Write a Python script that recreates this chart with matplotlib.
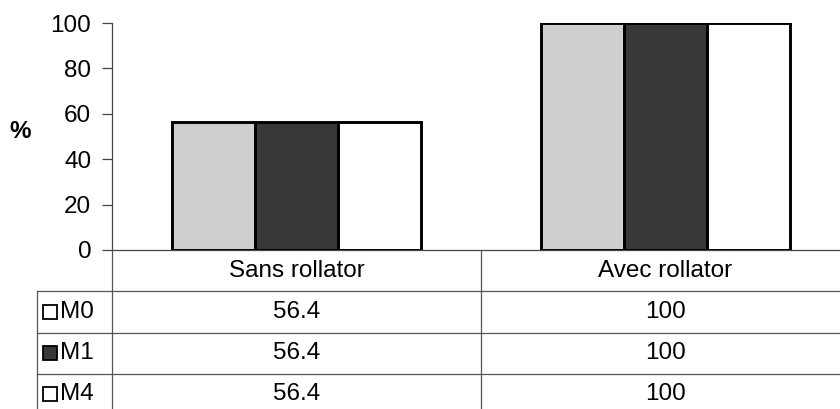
import matplotlib
matplotlib.use("Agg")
import matplotlib.pyplot as plt
import numpy as np
from matplotlib.patches import Rectangle

plt.rcParams['font.family'] = ['Liberation Sans', 'DejaVu Sans']

categories = ["Sans rollator", "Avec rollator"]
series_names = ["M0", "M1", "M4"]
m0 = [56.4, 100]
m1 = [56.4, 100]
m4 = [56.4, 100]
series_values = [m0, m1, m4]
yticks = [0, 20, 40, 60, 80, 100]

face_colors = ["#cfcfcf", "#383838", "#ffffff"]
legend_colors = ["#ffffff", "#383838", "#ffffff"]
FS = 17.5

W, H = 840, 409
fig = plt.figure(figsize=(W / 100, H / 100), dpi=100)

ax_left_px, ax_right_px = 112, 850
ax_top_px, ax_bot_px = 23, 250
ax = fig.add_axes([ax_left_px / W, (H - ax_bot_px) / H,
                   (ax_right_px - ax_left_px) / W, (ax_bot_px - ax_top_px) / H])

x = np.arange(len(categories))
bw = 0.225
for i, (name, vals) in enumerate(zip(series_names, series_values)):
    ax.bar(x + (i - 1) * bw, vals, width=bw, color=face_colors[i],
           edgecolor="black", linewidth=2.1, zorder=3)

ax.set_xlim(-0.5, len(categories) - 0.5)
ax.set_ylim(0, 100)
ax.set_yticks(yticks)
ax.set_yticklabels([str(t) for t in yticks], fontsize=FS)
ax.set_xticks([])
for s in ["top", "right"]:
    ax.spines[s].set_visible(False)
ax.spines["left"].set_color("#444444")
ax.spines["bottom"].set_color("#444444")
ax.spines["left"].set_linewidth(0.9)
ax.spines["bottom"].set_linewidth(0.9)
ax.tick_params(axis="y", direction="out", length=7, width=0.9, color="#444444", pad=8)

fig.text(20 / W, (H - 131) / H, "%", fontsize=FS, fontweight="bold",
         ha="center", va="center")

# Data table below the axes
row_top_px, row_h_px = 250, 41.25
nrows = 1 + len(series_names)
tab_bot_px = row_top_px + nrows * row_h_px
tax = fig.add_axes([ax_left_px / W, (H - tab_bot_px) / H,
                    (ax_right_px - ax_left_px) / W, (tab_bot_px - row_top_px) / H])
tax.set_xlim(-0.5, len(categories) - 0.5)
tax.set_ylim(nrows, 0)
tax.axis("off")

px_per_unit = (ax_right_px - ax_left_px) / len(categories)
leg_left = -0.5 - (112 - 37) / px_per_unit
lc = "#555555"
lw = 0.9
# vertical lines
tax.plot([-0.5, -0.5], [0, nrows], color=lc, lw=lw, clip_on=False)
for k in range(1, len(categories)):
    tax.plot([k - 0.5, k - 0.5], [0, nrows], color=lc, lw=lw, clip_on=False)
tax.plot([leg_left, leg_left], [1, nrows], color=lc, lw=lw, clip_on=False)
# horizontal lines
for r in range(1, nrows):
    tax.plot([leg_left, len(categories)], [r, r], color=lc, lw=lw, clip_on=False)

for j, c in enumerate(categories):
    tax.text(j, 0.5, c, ha="center", va="center", fontsize=FS)
for i, (name, vals) in enumerate(zip(series_names, series_values)):
    r = i + 1
    for j, v in enumerate(vals):
        s = f"{v:g}"
        tax.text(j, r + 0.5, s, ha="center", va="center", fontsize=FS)
    sq = 14 / px_per_unit
    sqh = 14 / row_h_px
    x0 = leg_left + 6 / px_per_unit
    tax.add_patch(Rectangle((x0, r + 0.5 - sqh / 2), sq, sqh, facecolor=legend_colors[i],
                            edgecolor="black", lw=1.3, clip_on=False))
    tax.text(x0 + sq + 3 / px_per_unit, r + 0.5, name, ha="left", va="center",
             fontsize=FS)

fig.savefig("out.png", dpi=100)
